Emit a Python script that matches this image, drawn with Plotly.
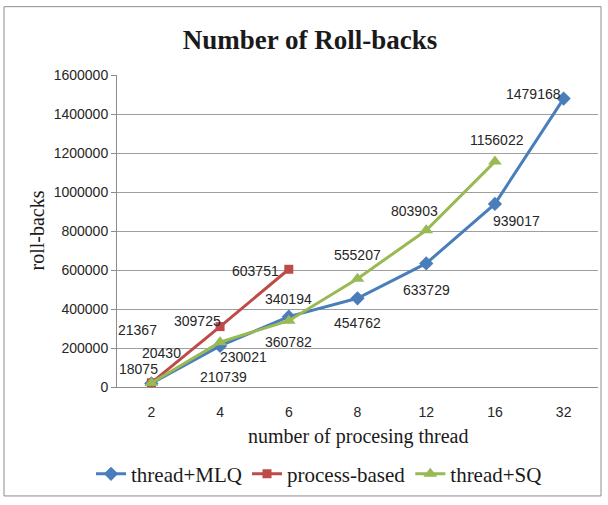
import plotly.graph_objects as go

# Thread counts on the category axis
threads = ["2", "4", "6", "8", "12", "16", "32"]

# Roll-back counts per scheduling strategy
mlq_values = [18075, 210739, 360782, 454762, 633729, 939017, 1479168]
process_threads = ["2", "4", "6"]
process_values = [21367, 309725, 603751]
sq_threads = ["2", "4", "6", "8", "12", "16"]
sq_values = [20430, 230021, 340194, 555207, 803903, 1156022]

y_ticks = [0, 200000, 400000, 600000, 800000, 1000000, 1200000, 1400000, 1600000]

BLUE = "#4A7EBB"
RED = "#BE4B48"
GREEN = "#98B954"
NUM_FONT = "Liberation Sans, Arial, sans-serif"
SERIF = "Liberation Serif, Times New Roman, serif"

fig = go.Figure()
fig.add_trace(go.Scatter(
    x=threads, y=mlq_values, name="thread+MLQ", mode="lines+markers",
    line=dict(color=BLUE, width=3),
    marker=dict(symbol="diamond", size=11, color=BLUE),
))
fig.add_trace(go.Scatter(
    x=process_threads, y=process_values, name="process-based", mode="lines+markers",
    line=dict(color=RED, width=3),
    marker=dict(symbol="square", size=9, color=RED),
))
fig.add_trace(go.Scatter(
    x=sq_threads, y=sq_values, name="thread+SQ", mode="lines+markers",
    line=dict(color=GREEN, width=3),
    marker=dict(symbol="triangle-up", size=12, color=GREEN),
))

# Value labels, offset in pixels from each point
label_offsets = {
    "mlq": [(-13, -14), (3, 31), (0, 25), (0, 25), (0, 27), (22, 17), (-30, -5)],
    "process": [(-14, -53), (-23, -6), (-33, 2)],
    "sq": [(10, -30), (23, 15), (0, -22), (0, -24), (-12, -19), (2, -22)],
}
series = {
    "mlq": (threads, mlq_values),
    "process": (process_threads, process_values),
    "sq": (sq_threads, sq_values),
}
for key, (xs, ys) in series.items():
    for (xv, yv), (dx, dy) in zip(zip(xs, ys), label_offsets[key]):
        fig.add_annotation(
            x=threads.index(xv), y=yv, text=str(yv), showarrow=False,
            xshift=dx, yshift=-dy, xanchor="center", yanchor="middle",
            font=dict(family=NUM_FONT, size=14, color="#262626"),
        )

# Axis titles
fig.add_annotation(
    text="number of procesing thread", xref="paper", yref="paper",
    x=0.5, y=(390 - 440) / 315, showarrow=False,
    xanchor="center", yanchor="middle",
    font=dict(family=SERIF, size=20, color="#1a1a1a"),
)
fig.add_annotation(
    text="roll-backs", xref="paper", yref="paper",
    x=(37 - 117) / 481, y=(390 - 232) / 315, showarrow=False, textangle=-90,
    xanchor="center", yanchor="middle",
    font=dict(family=SERIF, size=20, color="#1a1a1a"),
)

# Outer chart border
fig.add_shape(
    type="rect", xref="paper", yref="paper",
    x0=(4 - 117) / 481, x1=(601 - 117) / 481,
    y0=(390 - 500) / 315, y1=(390 - 6) / 315,
    line=dict(color="#8c8c8c", width=1), layer="below",
)

fig.update_layout(
    width=608, height=505,
    margin=dict(l=117, r=10, t=75, b=115),
    paper_bgcolor="white", plot_bgcolor="white",
    title=dict(
        text="<b>Number of Roll-backs</b>", x=0.51, xanchor="center",
        y=1 - 40 / 505, yanchor="middle", yref="container",
        font=dict(family=SERIF, size=27, color="#1a1a1a"),
    ),
    showlegend=True,
    legend=dict(
        orientation="h", x=0.42, xanchor="center", y=(390 - 478) / 315,
        yanchor="middle", font=dict(family=SERIF, size=21, color="#1a1a1a"),
        itemwidth=30, tracegroupgap=0,
    ),
    xaxis=dict(
        type="category", categoryorder="array", categoryarray=threads,
        showgrid=False, showline=True, linecolor="#8c8c8c", linewidth=1,
        ticks="", ticklabelstandoff=12,
        tickfont=dict(family=NUM_FONT, size=14, color="#262626"),
        range=[-0.5, 6.5], zeroline=False,
    ),
    yaxis=dict(
        range=[0, 1600000], tickvals=y_ticks, tickformat="d",
        showgrid=True, gridcolor="#9e9e9e", gridwidth=1,
        showline=True, linecolor="#8c8c8c", linewidth=1,
        ticks="outside", ticklen=5, tickcolor="#8c8c8c",
        tickfont=dict(family=NUM_FONT, size=14, color="#262626"),
        zeroline=False,
    ),
)

fig.write_html("out.html")
